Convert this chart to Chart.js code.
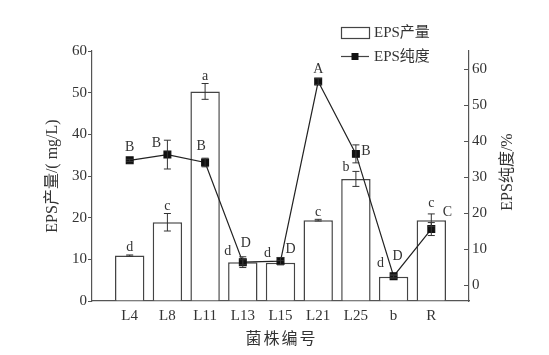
<!DOCTYPE html>
<html>
<head>
<meta charset="utf-8">
<script src="https://cdn.jsdelivr.net/npm/chart.js@4/dist/chart.umd.min.js"></script>
<style>
    body { margin: 0; background: #fff; }
    #wrap { width: 549px; height: 355px; }
</style>
</head>
<body>
<div id="wrap"><canvas id="chart" width="549" height="355"></canvas></div>
<script>
// Strains and measured values
const strains = ['L4', 'L8', 'L11', 'L13', 'L15', 'L21', 'L25', 'b', 'R'];
const yieldValues = [10.9, 18.9, 50.3, 9.3, 9.2, 19.4, 29.3, 5.8, 19.4];
const yieldErrors = [0.15, 2.1, 1.9, 0.6, 0.5, 0.2, 1.8, 0.3, 1.5];
const yieldLetters = ['d', 'c', 'a', 'd', 'd', 'c', 'b', 'd', 'c'];
const purityValues = [34.6, 36.2, 34.0, 6.3, 6.6, 56.5, 36.4, 2.4, 15.5];
const purityErrors = [0.3, 4.0, 1.2, 1.5, 1.0, 0.8, 2.5, 0.5, 1.8];
const purityLetters = ['B', 'B', 'B', 'D', 'D', 'A', 'B', 'D', 'C'];
const yieldTicks = [0, 10, 20, 30, 40, 50, 60];
const purityTicks = [0, 10, 20, 30, 40, 50, 60];

// where the significance letters sit, relative to the top of each error bar
const barLetterShift = [[0, -8], [0, -7], [0, -7], [-15, -8], [-13, -7], [0, -7], [-10, -4], [-13, -12], [0, -11]];
const lineLetterShift = [[0, -12], [-11, 3], [-4, -12], [3, -13], [10, -8], [0, -9], [10, 6], [4, -18], [16, -10]];

const SERIF = '"Liberation Serif", "Noto Sans CJK SC", serif';
const AXIS = '#555';
const TEXT = '#333';

// one empty slot on each side of the strains
const labels = ['', ...strains, ''];
const pad = arr => [null, ...arr, null];

const annotate = {
    id: 'annotate',
    afterDatasetsDraw(chart) {
        const ctx = chart.ctx;
        const x = chart.scales.x;
        const y = chart.scales.y;
        const y1 = chart.scales.y1;
        const cap = 3.5;

        ctx.save();
        ctx.strokeStyle = '#333';
        ctx.lineWidth = 1;

        const errBar = (px, lo, hi) => {
            ctx.beginPath();
            ctx.moveTo(px, lo); ctx.lineTo(px, hi);
            ctx.moveTo(px - cap, lo); ctx.lineTo(px + cap, lo);
            ctx.moveTo(px - cap, hi); ctx.lineTo(px + cap, hi);
            ctx.stroke();
        };

        ctx.font = '14px ' + SERIF;
        ctx.fillStyle = TEXT;
        ctx.textAlign = 'center';
        ctx.textBaseline = 'middle';

        strains.forEach((s, i) => {
            const px = x.getPixelForValue(i + 1);
            // bars
            const bTop = y.getPixelForValue(yieldValues[i] + yieldErrors[i]);
            errBar(px, y.getPixelForValue(yieldValues[i] - yieldErrors[i]), bTop);
            ctx.fillText(yieldLetters[i], px + barLetterShift[i][0], bTop + barLetterShift[i][1]);
            // line points
            const lTop = y1.getPixelForValue(purityValues[i] + purityErrors[i]);
            errBar(px, y1.getPixelForValue(purityValues[i] - purityErrors[i]), lTop);
            ctx.fillText(purityLetters[i], px + lineLetterShift[i][0], lTop + lineLetterShift[i][1]);
        });

        // inward tick marks on the right axis
        ctx.strokeStyle = AXIS;
        ctx.beginPath();
        purityTicks.forEach(t => {
            const py = Math.round(y1.getPixelForValue(t)) + 0.5;
            ctx.moveTo(y1.left - 5, py);
            ctx.lineTo(y1.left, py);
        });
        ctx.stroke();

        const area = chart.chartArea;

        // axis titles
        ctx.font = '16px ' + SERIF;
        ctx.fillStyle = TEXT;
        ctx.save();
        ctx.translate(area.left - 39.5, (area.top + area.bottom) / 2);
        ctx.rotate(-Math.PI / 2);
        ctx.fillText('EPS产量/( mg/L)', 0, 0);
        ctx.restore();

        ctx.save();
        ctx.translate(area.right + 38.5, (area.top + area.bottom) / 2 - 4);
        ctx.rotate(-Math.PI / 2);
        ctx.fillText('EPS纯度/%', 0, 0);
        ctx.restore();

        ctx.save();
        ctx.letterSpacing = '2px';
        ctx.fillText('菌株编号', (area.left + area.right) / 2 + 1, area.bottom + 39);
        ctx.restore();

        // legend
        ctx.font = '15px ' + SERIF;
        ctx.lineWidth = 1.2;
        ctx.strokeStyle = '#444';
        ctx.strokeRect(341.5, 27.5, 28, 11);
        ctx.beginPath();
        ctx.moveTo(341, 56.5);
        ctx.lineTo(369, 56.5);
        ctx.stroke();
        ctx.fillStyle = '#111';
        ctx.fillRect(351.5, 53, 7, 7);
        ctx.fillStyle = TEXT;
        ctx.textAlign = 'left';
        ctx.fillText('EPS产量', 374, 33);
        ctx.fillText('EPS纯度', 374, 57);

        ctx.restore();
    }
};

const ctx = document.getElementById('chart').getContext('2d');
new Chart(ctx, {
    data: {
        labels: labels,
        datasets: [
            {
                type: 'line',
                label: 'EPS纯度',
                data: pad(purityValues),
                yAxisID: 'y1',
                order: 0,
                borderColor: '#222',
                borderWidth: 1.2,
                pointStyle: 'rect',
                pointRadius: 4.8,
                pointBackgroundColor: '#111',
                pointBorderColor: '#111',
                tension: 0,
                spanGaps: false,
            },
            {
                type: 'bar',
                label: 'EPS产量',
                data: pad(yieldValues),
                yAxisID: 'y',
                order: 1,
                backgroundColor: '#fff',
                borderColor: '#444',
                borderWidth: 1.5,
                categoryPercentage: 1,
                barPercentage: 0.78,
            },
        ],
    },
    options: {
        responsive: false,
        animation: false,
        layout: { padding: { top: 51, left: 0, right: 0, bottom: 0 } },
        plugins: {
            legend: { display: false },
            tooltip: { enabled: false },
        },
        scales: {
            x: {
                type: 'category',
                offset: false,
                grid: { display: false, drawTicks: false },
                border: { display: true, color: AXIS, width: 1.2 },
                ticks: { color: TEXT, font: { family: '"Liberation Serif"', size: 15 }, padding: 6, maxRotation: 0, autoSkip: false },
                afterFit: s => { s.height = 54; },
            },
            y: {
                position: 'left',
                min: 0,
                max: 60,
                grid: { drawOnChartArea: false, drawTicks: true, tickLength: 4, tickColor: AXIS },
                border: { display: true, color: AXIS, width: 1.2 },
                ticks: { color: TEXT, font: { family: '"Liberation Serif"', size: 15 }, padding: 1, stepSize: 10 },
                afterBuildTicks: s => { s.ticks = yieldTicks.map(v => ({ value: v })); },
                afterFit: s => { s.width = 92; },
            },
            y1: {
                position: 'right',
                min: -4.5,
                max: 65,
                grid: { drawOnChartArea: false, drawTicks: false },
                border: { display: true, color: AXIS, width: 1.2 },
                ticks: { color: TEXT, font: { family: '"Liberation Serif"', size: 15 }, padding: 3 },
                afterBuildTicks: s => { s.ticks = purityTicks.map(v => ({ value: v })); },
                afterFit: s => { s.width = 80; },
            },
        },
    },
    plugins: [annotate],
});
</script>
</body>
</html>
